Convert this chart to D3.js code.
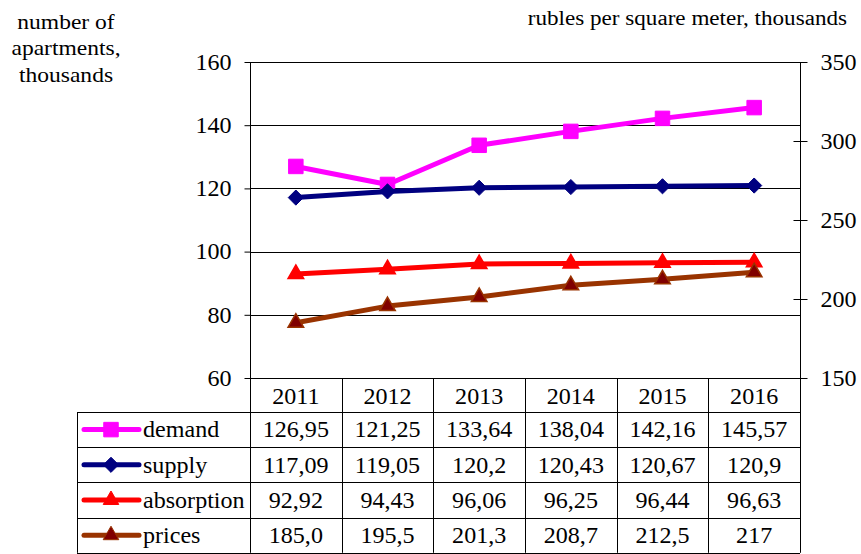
<!DOCTYPE html>
<html>
<head>
<meta charset="utf-8">
<script src="https://cdn.jsdelivr.net/npm/d3@7"></script>
<style>
  body { margin: 0; background: #fff; }
  svg text { font-family: "Liberation Serif", "DejaVu Serif", serif; fill: #000; }
</style>
</head>
<body>
<div id="chart"></div>
<script>
// data
const years = ["2011", "2012", "2013", "2014", "2015", "2016"];
const demand = [126.95, 121.25, 133.64, 138.04, 142.16, 145.57];
const supply = [117.09, 119.05, 120.2, 120.43, 120.67, 120.9];
const absorption = [92.92, 94.43, 96.06, 96.25, 96.44, 96.63];
const prices = [185.0, 195.5, 201.3, 208.7, 212.5, 217];
const demandLabels = ["126,95", "121,25", "133,64", "138,04", "142,16", "145,57"];
const supplyLabels = ["117,09", "119,05", "120,2", "120,43", "120,67", "120,9"];
const absorptionLabels = ["92,92", "94,43", "96,06", "96,25", "96,44", "96,63"];
const priceLabels = ["185,0", "195,5", "201,3", "208,7", "212,5", "217"];
const leftTicks = [60, 80, 100, 120, 140, 160];
const rightTicks = [150, 200, 250, 300, 350];

const series = [
  { name: "demand", values: demand, labels: demandLabels, axis: "left", color: "#ff00ff", fill: "#ff00ff", symbol: "square" },
  { name: "supply", values: supply, labels: supplyLabels, axis: "left", color: "#000080", fill: "#000080", symbol: "diamond" },
  { name: "absorption", values: absorption, labels: absorptionLabels, axis: "left", color: "#ff0000", fill: "#ff0000", symbol: "triangle" },
  { name: "prices", values: prices, labels: priceLabels, axis: "right", color: "#993300", fill: "#800000", symbol: "triangle" }
];

const width = 861, height = 554;
const plot = { left: 250, right: 800, top: 62, bottom: 378 };
const table = { left: 77, headH: 34, rowH: 35.2 };
const serif = "'Liberation Serif', 'DejaVu Serif', serif";
const fontSize = 22.5;
const sx = 1.07; // the source text is a little wider than plain Times

// move the x of a text into a transform so it can be stretched sideways
function stretch(sel) {
  sel.each(function() {
    const t = d3.select(this);
    const x0 = +t.attr("x") || 0;
    t.attr("x", 0).attr("transform", `translate(${x0},0) scale(${sx},1)`);
  });
}

const svg = d3.select("#chart").append("svg")
  .attr("width", width)
  .attr("height", height)
  .attr("font-family", serif);

const x = d3.scaleBand().domain(years).range([plot.left, plot.right]);
const yL = d3.scaleLinear().domain([60, 160]).range([plot.bottom, plot.top]);
const yR = d3.scaleLinear().domain([150, 350]).range([plot.bottom, plot.top]);

// gridlines
svg.append("g")
  .selectAll("line")
  .data(leftTicks)
  .join("line")
  .attr("x1", plot.left)
  .attr("x2", plot.right)
  .attr("y1", d => Math.round(yL(d)) + 0.5)
  .attr("y2", d => Math.round(yL(d)) + 0.5)
  .attr("stroke", "#000");

// left axis
const leftAxis = svg.append("g")
  .attr("transform", `translate(${plot.left + 0.5},0)`)
  .call(d3.axisLeft(yL).tickValues(leftTicks).tickSize(6).tickSizeOuter(0).tickPadding(13))
  .attr("font-family", serif)
  .attr("font-size", fontSize);
leftAxis.select(".domain").remove();
leftAxis.selectAll(".tick text").call(stretch);

// right axis with crossing ticks
const rightAxis = svg.append("g")
  .attr("transform", `translate(${plot.right + 0.5},0)`)
  .call(d3.axisRight(yR).tickValues(rightTicks).tickSize(7).tickSizeOuter(0).tickPadding(13))
  .attr("font-family", serif)
  .attr("font-size", fontSize);
rightAxis.select(".domain").remove();
rightAxis.selectAll(".tick line").attr("x1", d => d === 350 ? 0 : -7);
rightAxis.selectAll(".tick text").call(stretch);

// vertical borders of plot, running through the table
const tableBottom = plot.bottom + table.headH + table.rowH * series.length;
svg.append("line")
  .attr("x1", plot.left + 0.5).attr("x2", plot.left + 0.5)
  .attr("y1", plot.top).attr("y2", tableBottom)
  .attr("stroke", "#000");
svg.append("line")
  .attr("x1", plot.right + 0.5).attr("x2", plot.right + 0.5)
  .attr("y1", plot.top).attr("y2", tableBottom)
  .attr("stroke", "#000");

// axis titles
svg.append("g")
  .attr("font-size", 22)
  .attr("text-anchor", "middle")
  .selectAll("text")
  .data(["number of", "apartments,", "thousands"])
  .join("text")
  .attr("x", 66)
  .attr("y", (d, i) => 29 + i * 26.5)
  .text(d => d)
  .call(stretch);

svg.append("text")
  .attr("x", 847)
  .attr("y", 25)
  .attr("text-anchor", "end")
  .attr("font-size", 21.6)
  .text("rubles per square meter, thousands")
  .call(stretch);

// markers: a square, a diamond (square turned 45 degrees) and a triangle
const diamond = {
  draw(ctx, size) {
    const r = Math.sqrt(size / 2);
    ctx.moveTo(0, -r); ctx.lineTo(r, 0); ctx.lineTo(0, r); ctx.lineTo(-r, 0); ctx.closePath();
  }
};
const symbolFor = s => {
  if (s.symbol === "square") return d3.symbol(d3.symbolSquare, 210)();
  if (s.symbol === "diamond") return d3.symbol(diamond, 115)();
  return d3.symbol(d3.symbolTriangle, 105)();
};

// series lines
series.forEach(s => {
  const y = s.axis === "left" ? yL : yR;
  const line = d3.line()
    .x((d, i) => x(years[i]) + x.bandwidth() / 2)
    .y(d => y(d));
  const g = svg.append("g");
  g.append("path")
    .datum(s.values)
    .attr("d", line)
    .attr("fill", "none")
    .attr("stroke", s.color)
    .attr("stroke-width", 5)
    .attr("stroke-linejoin", "round");
  g.selectAll("path.mark")
    .data(s.values)
    .join("path")
    .attr("class", "mark")
    .attr("d", symbolFor(s))
    .attr("transform", (d, i) => `translate(${x(years[i]) + x.bandwidth() / 2},${y(d)})`)
    .attr("fill", s.fill)
    .attr("stroke", s.color)
    .attr("stroke-width", s.symbol === "triangle" ? 1.5 : 1);
});

// data table
const tbl = svg.append("g").attr("font-size", fontSize);
const rowTop = i => plot.bottom + table.headH + i * table.rowH;

// year header row
tbl.selectAll("text.year")
  .data(years)
  .join("text")
  .attr("class", "year")
  .attr("x", d => x(d) + x.bandwidth() / 2)
  .attr("y", plot.bottom + table.headH / 2 + 1)
  .attr("dy", "0.35em")
  .attr("text-anchor", "middle")
  .text(d => d)
  .call(stretch);

// horizontal rules
tbl.selectAll("line.h")
  .data(d3.range(series.length + 1))
  .join("line")
  .attr("class", "h")
  .attr("x1", table.left)
  .attr("x2", plot.right)
  .attr("y1", i => Math.round(rowTop(i)) + 0.5)
  .attr("y2", i => Math.round(rowTop(i)) + 0.5)
  .attr("stroke", "#000");

// vertical rules between years
tbl.selectAll("line.v")
  .data(years.slice(1))
  .join("line")
  .attr("class", "v")
  .attr("x1", d => Math.round(x(d)) + 0.5)
  .attr("x2", d => Math.round(x(d)) + 0.5)
  .attr("y1", plot.bottom)
  .attr("y2", tableBottom)
  .attr("stroke", "#000");

tbl.append("line")
  .attr("x1", table.left + 0.5).attr("x2", table.left + 0.5)
  .attr("y1", rowTop(0)).attr("y2", tableBottom)
  .attr("stroke", "#000");

series.forEach((s, r) => {
  const cy = rowTop(r) + table.rowH / 2;
  const row = tbl.append("g");
  row.append("line")
    .attr("x1", 84).attr("x2", 139)
    .attr("y1", cy).attr("y2", cy)
    .attr("stroke", s.color)
    .attr("stroke-width", 5)
    .attr("stroke-linecap", "round");
  row.append("path")
    .attr("d", symbolFor(s))
    .attr("transform", `translate(111,${cy})`)
    .attr("fill", s.fill)
    .attr("stroke", s.color)
    .attr("stroke-width", 1);
  row.append("text")
    .attr("x", 143)
    .attr("y", cy)
    .attr("dy", "0.35em")
    .text(s.name)
    .call(stretch);
  row.selectAll("text.val")
    .data(s.labels)
    .join("text")
    .attr("class", "val")
    .attr("x", (d, i) => x(years[i]) + x.bandwidth() / 2)
    .attr("y", cy)
    .attr("dy", "0.35em")
    .attr("text-anchor", "middle")
    .text(d => d)
    .call(stretch);
});
</script>
</body>
</html>
